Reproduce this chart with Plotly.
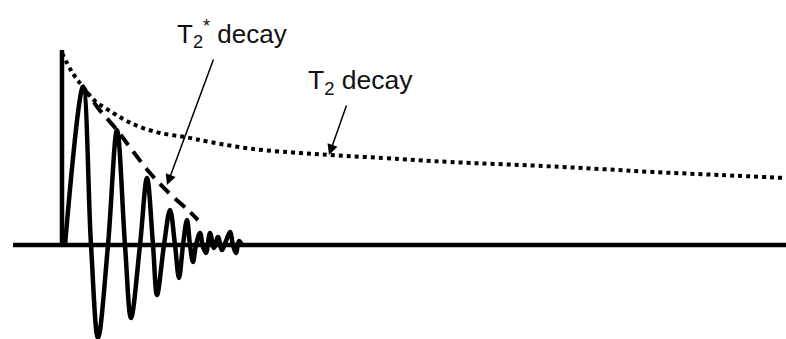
import plotly.graph_objects as go

# ==========================================
# DATOS
# ==========================================
# pulso inicial
pulse_t = [62, 62]
pulse_v = [0, 195]

# señal FID (extremos y cruces por cero)
fid_t = [65, 83, 91, 98, 108, 117, 125, 131, 140, 147, 153, 157, 164, 170, 175, 179,
         183, 187, 190, 193, 196, 200, 203, 206, 210, 214, 218, 222, 226, 230, 233, 236,
         239, 242]
fid_v = [0, 158, 0, -93, 0, 115, 0, -73, 0, 67, 0, -50, 0, 35, 0, -33,
         0, 25, 0, -17, 0, 12, -2, -8, 12, -3, 8, -5, 4, 13, 0, -8,
         4, 0]

# envolvente T2* (discontinua)
t2s_t = [82, 98, 117, 132, 150, 168, 188, 198]
t2s_v = [160, 137, 115, 95, 72, 53, 35, 25]

# envolvente T2 (punteada)
t2_t = [62, 72, 83, 95, 110, 125, 140, 160, 185, 210, 253, 300, 330, 400, 450, 543, 600, 653, 720, 786]
t2_v = [192, 173, 158, 144, 134, 125, 118, 112, 108, 103, 96, 92, 90, 86, 83, 79, 76, 73, 70, 67]

# línea base
base_t = [13, 786]
base_v = [0, 0]

# etiquetas
lbl_t2s = "T<sub>2</sub><sup>*</sup> decay"
lbl_t2 = "T<sub>2</sub> decay"

INK = "#000000"
FONT = "Liberation Sans, Arial, sans-serif"

# ==========================================
# FIGURA
# ==========================================
fig = go.Figure()

fig.add_trace(go.Scatter(x=base_t, y=base_v, mode="lines",
                         line=dict(color=INK, width=4.5), hoverinfo="skip"))
fig.add_trace(go.Scatter(x=pulse_t, y=pulse_v, mode="lines",
                         line=dict(color=INK, width=4.5), hoverinfo="skip"))
fig.add_trace(go.Scatter(x=fid_t, y=fid_v, mode="lines",
                         line=dict(color=INK, width=4.5, shape="spline", smoothing=1),
                         hoverinfo="skip"))
fig.add_trace(go.Scatter(x=t2s_t, y=t2s_v, mode="lines",
                         line=dict(color=INK, width=4, dash="13px,8px", shape="spline"),
                         hoverinfo="skip"))
fig.add_trace(go.Scatter(x=t2_t, y=t2_v, mode="lines",
                         line=dict(color=INK, width=4, dash="4px,4px", shape="spline"),
                         hoverinfo="skip"))

# flechas
fig.add_annotation(x=167, y=60, ax=214, ay=187, xref="x", yref="y", axref="x", ayref="y",
                   text="", showarrow=True, arrowhead=2, arrowsize=1.4, arrowwidth=1.5,
                   arrowcolor=INK)
fig.add_annotation(x=329, y=90, ax=347, ay=141, xref="x", yref="y", axref="x", ayref="y",
                   text="", showarrow=True, arrowhead=2, arrowsize=1.4, arrowwidth=1.5,
                   arrowcolor=INK)

# textos
fig.add_annotation(x=175, y=211, xref="x", yref="y", text=lbl_t2s, showarrow=False,
                   xanchor="left", yanchor="middle",
                   font=dict(family=FONT, size=26, color="#111111"))
fig.add_annotation(x=306, y=163, xref="x", yref="y", text=lbl_t2, showarrow=False,
                   xanchor="left", yanchor="middle",
                   font=dict(family=FONT, size=26.5, color="#111111"))

fig.update_layout(
    width=786, height=339,
    margin=dict(l=0, r=0, t=0, b=0),
    paper_bgcolor="white", plot_bgcolor="white",
    showlegend=False,
    xaxis=dict(range=[0, 786], visible=False, fixedrange=True),
    yaxis=dict(range=[-94, 245], visible=False, fixedrange=True),
)

# quitar el margen por defecto del <body> y la barra de herramientas
fig.write_html("out.html", config={"displayModeBar": False},
               post_script="document.body.style.margin='0';")
